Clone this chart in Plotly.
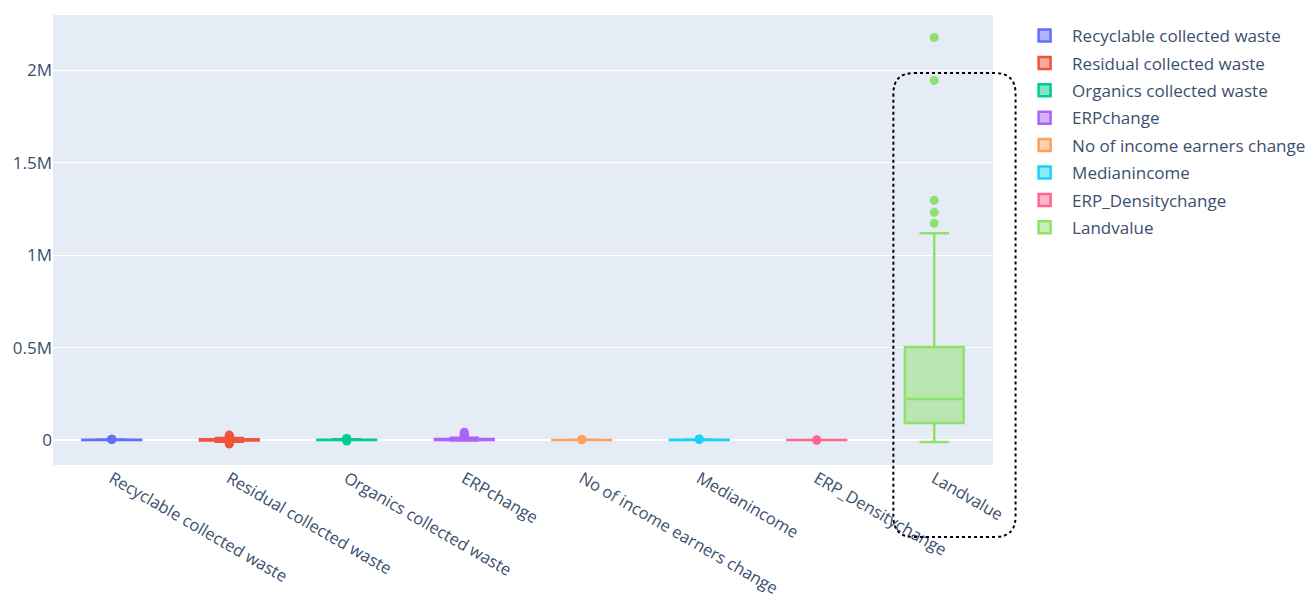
import plotly.graph_objects as go

categories = ["Recyclable collected waste", "Residual collected waste", "Organics collected waste",
              "ERPchange", "No of income earners change", "Medianincome", "ERP_Densitychange", "Landvalue"]
q1 = [300, -3000, 200, 500, 50, 400, 5, 92000]
median = [700, 1500, 900, 2500, 300, 900, 20, 222000]
q3 = [1200, 5000, 2000, 6000, 700, 1500, 60, 503000]
lowerfence = [0, -9000, 0, -2000, 0, 0, 0, -10000]
upperfence = [2500, 11000, 4500, 13000, 1500, 3000, 150, 1119000]
outliers = [
    [2800, 3300, 3900, 4500],
    [-22000, -16000, -11000, 13000, 18000, 23000, 27000],
    [-5000, -3000, 5000, 7000, 9000],
    [15000, 19000, 24000, 30000, 36000, 42000],
    [1800, 2600, 3400],
    [3500, 4500, 5500],
    [200, 350, 500],
    [1173000, 1232000, 1297000, 1946000, 2178000],
]
colors = ["#636efa", "#EF553B", "#00cc96", "#ab63fa", "#FFA15A", "#19d3f3", "#FF6692", "#8fe06c"]

fig = go.Figure()
for i, name in enumerate(categories):
    fig.add_trace(go.Box(
        x=[name], q1=[q1[i]], median=[median[i]], q3=[q3[i]],
        lowerfence=[lowerfence[i]], upperfence=[upperfence[i]],
        name=name, width=0.5, marker_color=colors[i], line=dict(width=2.5),
        legendgroup=name,
    ))
for i, name in enumerate(categories):
    fig.add_trace(go.Scatter(
        x=[name] * len(outliers[i]), y=outliers[i], mode="markers",
        marker=dict(color=colors[i], size=9), showlegend=False,
        hoverinfo="y", legendgroup=name,
    ))

# dotted rounded highlight box around Landvalue (paper coordinates)
x0, x1, y0, y1 = 0.894, 1.024, -0.16, 0.871
rx, ry = 0.022, 0.046
path = (f"M {x0+rx},{y1} L {x1-rx},{y1} Q {x1},{y1} {x1},{y1-ry} "
        f"L {x1},{y0+ry} Q {x1},{y0} {x1-rx},{y0} L {x0+rx},{y0} "
        f"Q {x0},{y0} {x0},{y0+ry} L {x0},{y1-ry} Q {x0},{y1} {x0+rx},{y1} Z")
fig.add_shape(type="path", path=path, xref="paper", yref="paper",
              line=dict(color="black", width=2, dash="dot"))

fig.update_layout(
    template="plotly",
    width=1309, height=599,
    margin=dict(l=53, r=316, t=15, b=134, autoexpand=False),
    font=dict(family="Open Sans", size=17, color="#3b4f6e"),
    legend=dict(xref="container", yref="container", x=0.777, y=0.970,
                xanchor="left", yanchor="top", font=dict(size=17), tracegroupgap=2.3,
                bgcolor="rgba(0,0,0,0)", itemwidth=45),
    xaxis=dict(tickangle=30, categoryorder="array", categoryarray=categories, automargin=False,
               range=[-0.5, 7.5], tickfont=dict(size=16.5)),
    yaxis=dict(range=[-135000, 2300000], tickvals=[0, 500000, 1000000, 1500000, 2000000],
               ticktext=["0", "0.5M", "1M", "1.5M", "2M"], zeroline=True, automargin=False,
               zerolinecolor="white", zerolinewidth=2),
)
fig.write_html("out.html")
